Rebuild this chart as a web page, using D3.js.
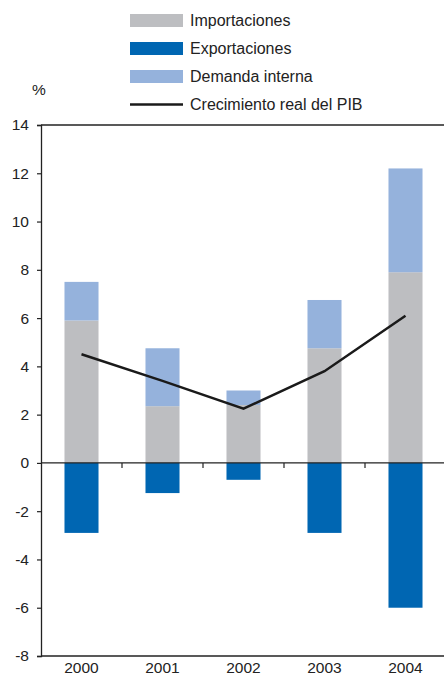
<!DOCTYPE html>
<html>
<head>
<meta charset="utf-8">
<script src="https://cdn.jsdelivr.net/npm/d3@7"></script>
<style>
  html, body { margin: 0; padding: 0; background: #fff; }
  svg { display: block; font-family: "Liberation Sans", Arial, sans-serif; }
</style>
</head>
<body>
<svg id="chart" width="444" height="677"></svg>
<script>
// Contribuciones al crecimiento del PIB (%)
const years = ["2000", "2001", "2002", "2003", "2004"];
const importaciones = [5.9, 2.35, 2.4, 4.75, 7.9];
const demandaInterna = [1.6, 2.4, 0.6, 2.0, 4.3];   // apilada sobre importaciones
const exportaciones = [-2.9, -1.25, -0.7, -2.9, -6.0];
const pib = [4.5, 3.4, 2.25, 3.8, 6.1];
const yTicks = [-8, -6, -4, -2, 0, 2, 4, 6, 8, 10, 12, 14];

const colors = {
  imp: "#bdbec1",
  exp: "#0066b2",
  dem: "#95b2dc",
  line: "#1a1a1a",
  axis: "#222"
};

const svg = d3.select("#chart");
const plotLeft = 41, plotRight = 446, plotTop = 125, plotBottom = 656;

const x = d3.scaleBand().domain(years).range([plotLeft, plotRight]).padding(0);
const y = d3.scaleLinear().domain([-8, 14]).range([plotBottom, plotTop]);
const barW = x.bandwidth() * 0.42;
const bx = d => x(d) + (x.bandwidth() - barW) / 2;

// Barras
const g = svg.append("g");
years.forEach((yr, i) => {
  const imp = importaciones[i];
  const dem = demandaInterna[i];
  g.append("rect")
    .attr("x", bx(yr)).attr("width", barW)
    .attr("y", y(imp)).attr("height", y(0) - y(imp))
    .attr("fill", colors.imp);
  g.append("rect")
    .attr("x", bx(yr)).attr("width", barW)
    .attr("y", y(imp + dem)).attr("height", y(imp) - y(imp + dem))
    .attr("fill", colors.dem);
  g.append("rect")
    .attr("x", bx(yr)).attr("width", barW)
    .attr("y", y(0)).attr("height", y(exportaciones[i]) - y(0))
    .attr("fill", colors.exp);
});

// Marco superior e inferior
svg.append("line").attr("x1", plotLeft).attr("x2", 444).attr("y1", y(14)).attr("y2", y(14))
  .attr("stroke", colors.axis).attr("stroke-width", 1.3);
svg.append("line").attr("x1", plotLeft).attr("x2", 444).attr("y1", y(-8)).attr("y2", y(-8))
  .attr("stroke", colors.axis).attr("stroke-width", 1.3);

// Eje Y
const yAxis = svg.append("g").attr("transform", `translate(${plotLeft},0)`)
  .call(d3.axisLeft(y).tickValues(yTicks).tickSize(4).tickPadding(8).tickFormat(d => String(d)));
yAxis.select(".domain").attr("stroke", colors.axis).attr("stroke-width", 1.3);
yAxis.selectAll(".tick line").attr("stroke", colors.axis).attr("stroke-width", 1.2);
yAxis.selectAll(".tick text").attr("fill", "#222").style("font-size", "15.5px")
  .style("font-family", "'Liberation Sans', Arial, sans-serif");

// Línea del cero con marcas entre categorías
svg.append("line").attr("x1", plotLeft).attr("x2", 444).attr("y1", y(0)).attr("y2", y(0))
  .attr("stroke", colors.axis).attr("stroke-width", 1.3);
years.slice(1).forEach(yr => {
  svg.append("line").attr("x1", x(yr)).attr("x2", x(yr))
    .attr("y1", y(0)).attr("y2", y(0) + 5)
    .attr("stroke", colors.axis).attr("stroke-width", 1.2);
});

// Etiquetas del eje X
svg.append("g").selectAll("text").data(years).join("text")
  .attr("x", d => x(d) + x.bandwidth() / 2)
  .attr("y", 673)
  .attr("text-anchor", "middle")
  .attr("fill", "#222")
  .style("font-size", "15.5px")
  .text(d => d);

// Crecimiento real del PIB
const line = d3.line()
  .x((d, i) => x(years[i]) + x.bandwidth() / 2)
  .y(d => y(d));
svg.append("path").datum(pib)
  .attr("d", line)
  .attr("fill", "none")
  .attr("stroke", colors.line)
  .attr("stroke-width", 2.5);

// Unidad
svg.append("text").attr("x", 32).attr("y", 95).attr("fill", "#222")
  .style("font-size", "15.5px").text("%");

// Leyenda
const legend = [
  { label: "Importaciones", type: "rect", color: colors.imp },
  { label: "Exportaciones", type: "rect", color: colors.exp },
  { label: "Demanda interna", type: "rect", color: colors.dem },
  { label: "Crecimiento real del PIB", type: "line", color: colors.line }
];
const lg = svg.append("g");
legend.forEach((d, i) => {
  const cy = 20.5 + i * 28;
  if (d.type === "rect") {
    lg.append("rect").attr("x", 130).attr("y", cy - 6.5).attr("width", 53).attr("height", 13)
      .attr("fill", d.color);
  } else {
    lg.append("line").attr("x1", 130).attr("x2", 183).attr("y1", cy).attr("y2", cy)
      .attr("stroke", d.color).attr("stroke-width", 2.5);
  }
  lg.append("text").attr("x", 190).attr("y", cy + 5.5).attr("fill", "#222")
    .style("font-size", "16px").text(d.label);
});
</script>
</body>
</html>
